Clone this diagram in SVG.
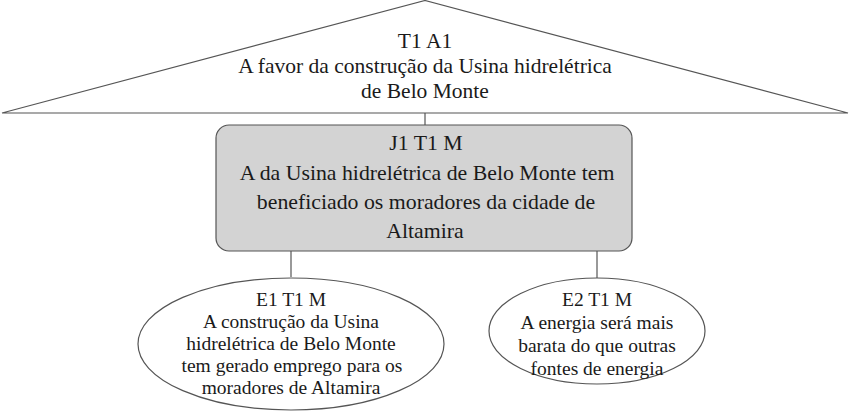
<svg xmlns="http://www.w3.org/2000/svg" width="850" height="412" viewBox="0 0 850 412">
<style>
.shape{stroke:#555;stroke-width:1.2;fill:#fff}
.c{stroke:#555;stroke-width:1.2;fill:none}
</style>
<rect width="850" height="412" fill="#fff"/>
<g id="connectors">
<line class="c" x1="425" y1="113" x2="425" y2="125"/>
<line class="c" x1="291" y1="251" x2="291" y2="277"/>
<line class="c" x1="597" y1="251" x2="597" y2="278"/>
</g>
<g font-family="'Liberation Serif', 'Times New Roman', 'DejaVu Serif', serif" fill="#1a1a1a" text-anchor="middle">
<g id="t1a1" font-size="21.5">
<polygon class="shape" points="425,0.5 2,113 848,113"/>
<text x="425" y="48">T1 A1</text>
<text x="425" y="73">A favor da construção da Usina hidrelétrica</text>
<text x="425" y="98">de Belo Monte</text>
</g>
<g id="j1t1m" font-size="21.8">
<rect class="shape" x="216" y="125" width="416" height="126" rx="13" style="fill:#d3d3d3"/>
<text x="426" y="150">J1 T1 M</text>
<text x="427" y="180">A da Usina hidrelétrica de Belo Monte tem</text>
<text x="426" y="209">beneficiado os moradores da cidade de</text>
<text x="425" y="238">Altamira</text>
</g>
<g id="e1t1m" font-size="19.5">
<ellipse class="shape" cx="291" cy="344" rx="153" ry="66"/>
<text x="291" y="306">E1 T1 M</text>
<text x="291" y="328">A construção da Usina</text>
<text x="291" y="350">hidrelétrica de Belo Monte</text>
<text x="292" y="372">tem gerado emprego para os</text>
<text x="291" y="394">moradores de Altamira</text>
</g>
<g id="e2t1m" font-size="19.5">
<ellipse class="shape" cx="597" cy="331" rx="108" ry="53"/>
<text x="597" y="306">E2 T1 M</text>
<text x="597" y="329">A energia será mais</text>
<text x="597" y="352">barata do que outras</text>
<text x="597" y="375">fontes de energia</text>
</g>
</g>
</svg>
